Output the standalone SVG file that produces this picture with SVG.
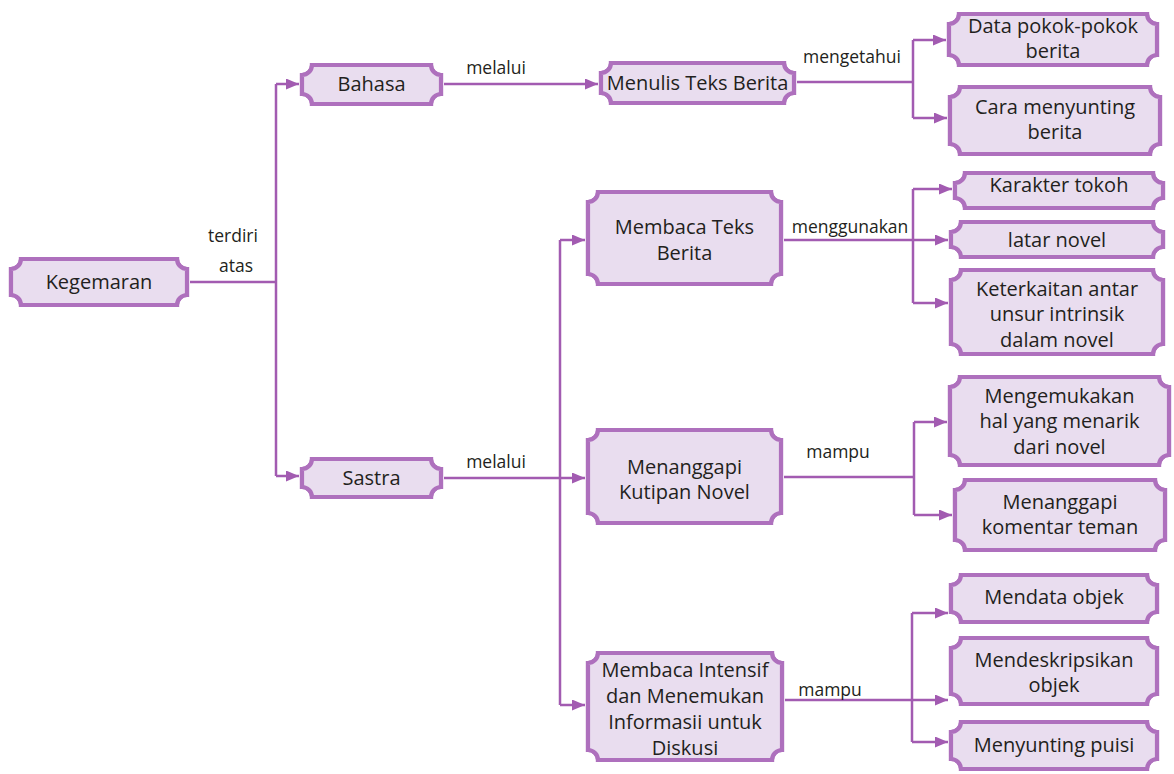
<svg xmlns="http://www.w3.org/2000/svg" xmlns:xlink="http://www.w3.org/1999/xlink" width="1174" height="774" viewBox="0 0 1174 774">
<style>
.box{fill:#e9ddef;stroke:#ae70bd;stroke-width:4.2}
.gap{fill:none;stroke:#ece2f1;stroke-width:1.7}
.t{font-family:"Open Sans","Noto Sans",sans-serif;font-size:20px;fill:#231f20;text-anchor:middle}
.l{font-family:"Open Sans","Noto Sans",sans-serif;font-size:17.5px;fill:#231f20;text-anchor:middle}
.c{fill:none;stroke:#a25bb1;stroke-width:2.5}
.a{marker-end:url(#ah)}
</style>
<defs>
<marker id="ah" markerUnits="userSpaceOnUse" markerWidth="13" markerHeight="11" refX="13" refY="5.5" orient="auto">
<path d="M0,0 L13,5.5 L0,11 z" fill="#a25bb1"/>
</marker>
</defs>
<rect width="1174" height="774" fill="#ffffff"/>
<g id="connectors">
<path class="c" d="M190,282 H276"/>
<path class="c" d="M276,84 V476"/>
<path class="c a" d="M276,84 H299"/>
<path class="c a" d="M276,476 H299"/>
<path class="c a" d="M444,84 H598"/>
<path class="c" d="M797,82 H913"/>
<path class="c" d="M913,40 V118"/>
<path class="c a" d="M913,40 H946"/>
<path class="c a" d="M913,118 H947"/>
<path class="c a" d="M444,478 H585"/>
<path class="c" d="M560,240 V705"/>
<path class="c a" d="M560,240 H585"/>
<path class="c a" d="M560,705 H585"/>
<path class="c a" d="M784,240 H948"/>
<path class="c" d="M913,189 V303"/>
<path class="c a" d="M913,189 H952"/>
<path class="c a" d="M913,303 H948"/>
<path class="c" d="M784,477 H914"/>
<path class="c" d="M914,422 V515"/>
<path class="c a" d="M914,422 H947"/>
<path class="c a" d="M914,515 H952"/>
<path class="c a" d="M785,700 H948"/>
<path class="c" d="M912,613 V742"/>
<path class="c a" d="M912,613 H948"/>
<path class="c a" d="M912,742 H948"/>
<text class="l" x="233" y="242">terdiri</text>
<text class="l" x="236" y="272">atas</text>
<text class="l" x="496" y="74">melalui</text>
<text class="l" x="852" y="63">mengetahui</text>
<text class="l" x="496" y="468">melalui</text>
<text class="l" x="850" y="233">menggunakan</text>
<text class="l" x="838" y="458">mampu</text>
<text class="l" x="830" y="696">mampu</text>
</g>
<g id="n-kegemaran">
<path id="s1" class="box" d="M21,259 H177 A10 10 0 0 0 187,269 V295 A10 10 0 0 0 177,305 H21 A10 10 0 0 0 11,295 V269 A10 10 0 0 0 21,259 Z"/>
<use xlink:href="#s1" class="gap"/>
<text class="t" x="99" y="289">Kegemaran</text>
</g>
<g id="n-bahasa">
<path id="s2" class="box" d="M312,65 H431 A10 10 0 0 0 441,75 V94 A10 10 0 0 0 431,104 H312 A10 10 0 0 0 302,94 V75 A10 10 0 0 0 312,65 Z"/>
<use xlink:href="#s2" class="gap"/>
<text class="t" x="371.5" y="91">Bahasa</text>
</g>
<g id="n-sastra">
<path id="s3" class="box" d="M312,459 H431 A10 10 0 0 0 441,469 V487 A10 10 0 0 0 431,497 H312 A10 10 0 0 0 302,487 V469 A10 10 0 0 0 312,459 Z"/>
<use xlink:href="#s3" class="gap"/>
<text class="t" x="371.5" y="485">Sastra</text>
</g>
<g id="n-menulis">
<path id="s4" class="box" d="M611,63 H784 A10 10 0 0 0 794,73 V93 A10 10 0 0 0 784,103 H611 A10 10 0 0 0 601,93 V73 A10 10 0 0 0 611,63 Z"/>
<use xlink:href="#s4" class="gap"/>
<text class="t" x="697.5" y="90">Menulis Teks Berita</text>
</g>
<g id="n-membaca-teks">
<path id="s5" class="box" d="M598,192 H771 A10 10 0 0 0 781,202 V274 A10 10 0 0 0 771,284 H598 A10 10 0 0 0 588,274 V202 A10 10 0 0 0 598,192 Z"/>
<use xlink:href="#s5" class="gap"/>
<text class="t" x="684.5" y="234">Membaca Teks</text>
<text class="t" x="684.5" y="260">Berita</text>
</g>
<g id="n-menanggapi-kutipan">
<path id="s6" class="box" d="M598,430 H771 A10 10 0 0 0 781,440 V513 A10 10 0 0 0 771,523 H598 A10 10 0 0 0 588,513 V440 A10 10 0 0 0 598,430 Z"/>
<use xlink:href="#s6" class="gap"/>
<text class="t" x="684.5" y="474">Menanggapi</text>
<text class="t" x="684.5" y="499">Kutipan Novel</text>
</g>
<g id="n-membaca-intensif">
<path id="s7" class="box" d="M598,653 H772 A10 10 0 0 0 782,663 V750 A10 10 0 0 0 772,760 H598 A10 10 0 0 0 588,750 V663 A10 10 0 0 0 598,653 Z"/>
<use xlink:href="#s7" class="gap"/>
<text class="t" x="685" y="677">Membaca Intensif</text>
<text class="t" x="685" y="703">dan Menemukan</text>
<text class="t" x="685" y="729">Informasii untuk</text>
<text class="t" x="685" y="755">Diskusi</text>
</g>
<g id="n-data">
<path id="s8" class="box" d="M959,14 H1147 A10 10 0 0 0 1157,24 V55 A10 10 0 0 0 1147,65 H959 A10 10 0 0 0 949,55 V24 A10 10 0 0 0 959,14 Z"/>
<use xlink:href="#s8" class="gap"/>
<text class="t" x="1053" y="33">Data pokok-pokok</text>
<text class="t" x="1053" y="58">berita</text>
</g>
<g id="n-cara">
<path id="s9" class="box" d="M960,87 H1150 A10 10 0 0 0 1160,97 V144 A10 10 0 0 0 1150,154 H960 A10 10 0 0 0 950,144 V97 A10 10 0 0 0 960,87 Z"/>
<use xlink:href="#s9" class="gap"/>
<text class="t" x="1055" y="114">Cara menyunting</text>
<text class="t" x="1055" y="139">berita</text>
</g>
<g id="n-karakter">
<path id="s10" class="box" d="M965,173 H1153 A10 10 0 0 0 1163,183 V198 A10 10 0 0 0 1153,208 H965 A10 10 0 0 0 955,198 V183 A10 10 0 0 0 965,173 Z"/>
<use xlink:href="#s10" class="gap"/>
<text class="t" x="1059" y="192">Karakter tokoh</text>
</g>
<g id="n-latar">
<path id="s11" class="box" d="M961,222 H1153 A10 10 0 0 0 1163,232 V247 A10 10 0 0 0 1153,257 H961 A10 10 0 0 0 951,247 V232 A10 10 0 0 0 961,222 Z"/>
<use xlink:href="#s11" class="gap"/>
<text class="t" x="1057" y="247">latar novel</text>
</g>
<g id="n-keterkaitan">
<path id="s12" class="box" d="M961,270 H1153 A10 10 0 0 0 1163,280 V344 A10 10 0 0 0 1153,354 H961 A10 10 0 0 0 951,344 V280 A10 10 0 0 0 961,270 Z"/>
<use xlink:href="#s12" class="gap"/>
<text class="t" x="1057" y="296">Keterkaitan antar</text>
<text class="t" x="1057" y="321">unsur intrinsik</text>
<text class="t" x="1057" y="347">dalam novel</text>
</g>
<g id="n-mengemukakan">
<path id="s13" class="box" d="M960,377 H1159 A10 10 0 0 0 1169,387 V455 A10 10 0 0 0 1159,465 H960 A10 10 0 0 0 950,455 V387 A10 10 0 0 0 960,377 Z"/>
<use xlink:href="#s13" class="gap"/>
<text class="t" x="1059.5" y="403">Mengemukakan</text>
<text class="t" x="1059.5" y="428">hal yang menarik</text>
<text class="t" x="1059.5" y="454">dari novel</text>
</g>
<g id="n-menanggapi-komentar">
<path id="s14" class="box" d="M965,480 H1155 A10 10 0 0 0 1165,490 V540 A10 10 0 0 0 1155,550 H965 A10 10 0 0 0 955,540 V490 A10 10 0 0 0 965,480 Z"/>
<use xlink:href="#s14" class="gap"/>
<text class="t" x="1060" y="509">Menanggapi</text>
<text class="t" x="1060" y="534">komentar teman</text>
</g>
<g id="n-mendata">
<path id="s15" class="box" d="M961,575 H1147 A10 10 0 0 0 1157,585 V612 A10 10 0 0 0 1147,622 H961 A10 10 0 0 0 951,612 V585 A10 10 0 0 0 961,575 Z"/>
<use xlink:href="#s15" class="gap"/>
<text class="t" x="1054" y="604">Mendata objek</text>
</g>
<g id="n-mendeskripsikan">
<path id="s16" class="box" d="M961,638 H1147 A10 10 0 0 0 1157,648 V694 A10 10 0 0 0 1147,704 H961 A10 10 0 0 0 951,694 V648 A10 10 0 0 0 961,638 Z"/>
<use xlink:href="#s16" class="gap"/>
<text class="t" x="1054" y="667">Mendeskripsikan</text>
<text class="t" x="1054" y="692">objek</text>
</g>
<g id="n-menyunting-puisi">
<path id="s17" class="box" d="M961,722 H1147 A10 10 0 0 0 1157,732 V759 A10 10 0 0 0 1147,769 H961 A10 10 0 0 0 951,759 V732 A10 10 0 0 0 961,722 Z"/>
<use xlink:href="#s17" class="gap"/>
<text class="t" x="1054" y="752">Menyunting puisi</text>
</g>
</svg>
